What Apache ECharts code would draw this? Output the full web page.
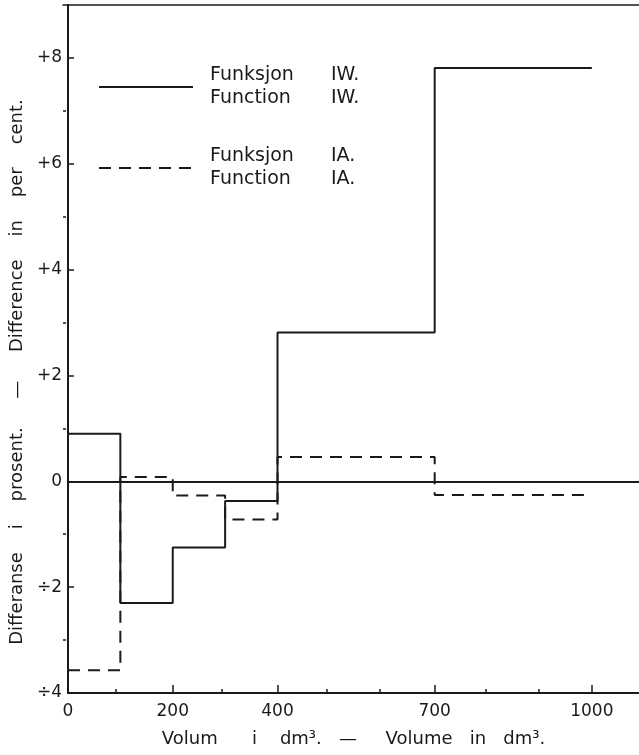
<!DOCTYPE html>
<html>
<head>
<meta charset="utf-8">
<script src="https://cdn.jsdelivr.net/npm/echarts@6/dist/echarts.min.js"></script>
<style>
html, body { margin: 0; padding: 0; background: #ffffff; }
#chart { width: 639px; height: 755px; }
</style>
</head>
<body>
<div id="chart"></div>
<script>
// ---- data ----
const binEdges = [0, 100, 200, 300, 400, 700, 1000];
const iwValues = [0.9, -2.3, -1.25, -0.37, 2.81, 7.81];
const iaValues = [-3.57, 0.08, -0.27, -0.72, 0.46, -0.26];
const xLabelValues = [0, 200, 400, 700, 1000];
const xMinorTickValues = [100, 300, 500, 600, 800, 900];
const yLabelValues = [-4, -2, 0, 2, 4, 6, 8];
const yLabelTexts = ['÷4', '÷2', '0', '+2', '+4', '+6', '+8'];
const yMinorTickValues = [-3, -1, 1, 3, 5, 7];
const seriesNames = ['IW', 'IA'];
const legendWords = ['Funksjon', 'Function'];
const legendSuffix = ['IW.', 'IA.'];
const xTitle = 'Volum      i    dm³.   —     Volume   in   dm³.';
const yTitle = 'Differanse    i    prosent.     —     Difference    in    per    cent.';

function stepData(edges, values) {
  const d = values.map((v, i) => [edges[i], v]);
  d.push([edges[edges.length - 1], values[values.length - 1]]);
  return d;
}

const INK = '#1a1a1a';
const FONT = 'DejaVu Sans';
const gridRect = { left: 63, right: 0, top: 5, bottom: 62 };

const chart = echarts.init(document.getElementById('chart'), null, { renderer: 'canvas' });
chart.setOption({
  animation: false,
  backgroundColor: '#ffffff',
  grid: [Object.assign({}, gridRect), Object.assign({}, gridRect)],
  legend: {
    orient: 'vertical',
    left: 98,
    top: 66,
    padding: 0,
    itemWidth: 94,
    itemHeight: 14,
    itemGap: 39,
    itemStyle: { opacity: 0 },
    data: seriesNames,
    formatter: function (name) {
      const s = legendSuffix[seriesNames.indexOf(name)];
      return '{a|' + legendWords[0] + '}{b|' + s + '}\n{a|' + legendWords[1] + '}{b|' + s + '}';
    },
    textStyle: {
      color: INK,
      fontFamily: FONT,
      fontSize: 19,
      rich: {
        a: { width: 121, padding: [0, 0, 0, 12], fontFamily: FONT, fontSize: 19, lineHeight: 23, color: INK },
        b: { fontFamily: FONT, fontSize: 19, lineHeight: 23, color: INK }
      }
    }
  },
  xAxis: [
    {
      gridIndex: 0, type: 'value', min: 0, max: 1090, position: 'bottom',
      axisLine: { show: true, onZero: false, lineStyle: { color: INK, width: 2 } },
      axisTick: { show: true, inside: true, length: 8, customValues: xLabelValues, lineStyle: { color: INK, width: 1.5 } },
      axisLabel: {
        customValues: xLabelValues, margin: 10, color: INK, fontFamily: FONT, fontSize: 17,
        formatter: function (v) { return String(v); }
      },
      splitLine: { show: false },
      name: xTitle, nameLocation: 'middle', nameGap: 37,
      nameTextStyle: { color: INK, fontFamily: FONT, fontSize: 18 }
    },
    {
      gridIndex: 1, type: 'value', min: 0, max: 1090, position: 'bottom',
      axisLine: { show: false, onZero: false },
      axisTick: { show: true, inside: true, length: 4, customValues: xMinorTickValues, lineStyle: { color: INK, width: 1.5 } },
      axisLabel: { show: false },
      splitLine: { show: false }
    },
    {
      gridIndex: 1, type: 'value', min: 0, max: 1090, position: 'top',
      axisLine: { show: true, onZero: false, lineStyle: { color: INK, width: 1.5 } },
      axisTick: { show: false },
      axisLabel: { show: false },
      splitLine: { show: false }
    }
  ],
  yAxis: [
    {
      gridIndex: 0, type: 'value', min: -4, max: 9, position: 'left',
      axisLine: { show: true, onZero: false, lineStyle: { color: INK, width: 2 } },
      axisTick: { show: true, inside: true, length: 6, customValues: yLabelValues, lineStyle: { color: INK, width: 1.5 } },
      axisLabel: {
        customValues: yLabelValues, margin: 6, color: INK, fontFamily: FONT, fontSize: 17,
        formatter: function (v) { return yLabelTexts[yLabelValues.indexOf(v)]; }
      },
      splitLine: { show: false },
      name: yTitle, nameLocation: 'middle', nameGap: 32,
      nameTextStyle: { color: INK, fontFamily: FONT, fontSize: 18, padding: [0, 46, 0, 0] }
    },
    {
      gridIndex: 1, type: 'value', min: -4, max: 9, position: 'left',
      axisLine: { show: false, onZero: false },
      axisTick: { show: true, inside: true, length: 3, customValues: yMinorTickValues, lineStyle: { color: INK, width: 1.5 } },
      axisLabel: { show: false },
      splitLine: { show: false }
    }
  ],
  series: [
    {
      name: seriesNames[0], type: 'line', step: 'end', xAxisIndex: 0, yAxisIndex: 0,
      data: stepData(binEdges, iwValues),
      symbol: 'none', color: INK,
      lineStyle: { color: INK, width: 2, type: 'solid' },
      markLine: {
        silent: true, symbol: ['none', 'none'], label: { show: false },
        lineStyle: { color: INK, width: 2, type: 'solid' },
        data: [{ yAxis: 0 }]
      }
    },
    {
      name: seriesNames[1], type: 'line', step: 'end', xAxisIndex: 0, yAxisIndex: 0,
      data: stepData(binEdges, iaValues),
      symbol: 'none', color: INK,
      lineStyle: { color: INK, width: 2, type: [12, 8] }
    }
  ]
});
</script>
</body>
</html>
